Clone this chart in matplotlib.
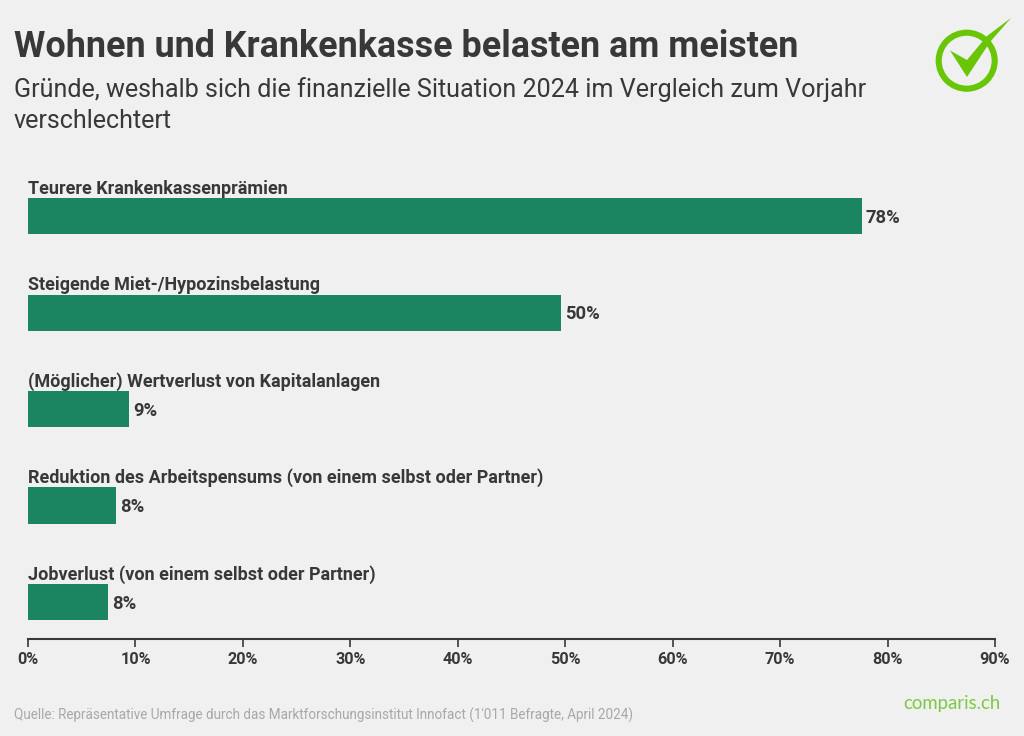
import matplotlib
matplotlib.use('Agg')
import matplotlib.pyplot as plt
from matplotlib.patches import Circle, Polygon

plt.rcParams['font.family'] = ['Roboto', 'DejaVu Sans']

categories = ['Teurere Krankenkassenprämien',
              'Steigende Miet-/Hypozinsbelastung',
              '(Möglicher) Wertverlust von Kapitalanlagen',
              'Reduktion des Arbeitspensums (von einem selbst oder Partner)',
              'Jobverlust (von einem selbst oder Partner)']
values = [77.6, 49.6, 9.4, 8.2, 7.4]
value_labels = ['78%', '50%', '9%', '8%', '8%']
ticks = [0, 10, 20, 30, 40, 50, 60, 70, 80, 90]

W, H = 1024, 736
BG = '#f0f0f0'
DARK = '#383838'
GREEN = '#1a8560'
LOGO = '#68c606'

fig = plt.figure(figsize=(W / 100, H / 100), dpi=100, facecolor=BG)

# achse in pixeln platzieren
ax = fig.add_axes([28 / W, 1 - 639 / H, (995 - 28) / W, (639 - 168) / H])
ax.set_facecolor('none')
pos = list(range(len(values)))
ax.barh(pos, values, height=0.375, color=GREEN)
ax.set_xlim(0, 90)
ax.set_ylim(4.384, -0.5)

for p, c, v, l in zip(pos, categories, values, value_labels):
    ax.text(0, p - 0.287, c, ha='left', va='center', fontsize=12.95,
            fontweight='bold', color=DARK)
    ax.annotate(l, (v, p), xytext=(3.0, -1.2), textcoords='offset points', ha='left',
                va='center', fontsize=13.2, fontweight='bold', color=DARK)

for s in ['top', 'right', 'left']:
    ax.spines[s].set_visible(False)
ax.spines['bottom'].set_color(DARK)
ax.spines['bottom'].set_linewidth(1.5)
ax.set_yticks([])
ax.set_xticks(ticks)
ax.set_xticklabels(['%d%%' % t for t in ticks], fontsize=11.7, fontweight='bold', color=DARK)
ax.tick_params(axis='x', length=6, width=1.2, color=DARK, pad=3, direction='out')

fig.text(14 / W, 1 - 47 / H, 'Wohnen und Krankenkasse belasten am meisten', fontsize=25.83,
         fontweight='bold', color=DARK, ha='left', va='center')
fig.text(14 / W, 1 - 90 / H, 'Gründe, weshalb sich die finanzielle Situation 2024 im Vergleich zum Vorjahr',
         fontsize=18.08, color=DARK, ha='left', va='center')
fig.text(14 / W, 1 - 121 / H, 'verschlechtert', fontsize=18.08, color=DARK, ha='left', va='center')
fig.text(14 / W, 1 - 715 / H, "Quelle: Repräsentative Umfrage durch das Marktforschungsinstitut Innofact (1'011 Befragte, April 2024)",
         fontsize=9.72, color='#a8a8a8', ha='left', va='center')
fig.text(1000 / W, 1 - 703 / H, 'comparis.ch', fontsize=13.45, color='#7cc943',
         ha='right', va='center', family=['Lato', 'DejaVu Sans'])

# logo oben rechts, in pixeln
overlay = fig.add_axes([0, 0, 1, 1], facecolor='none')
overlay.set_xlim(0, W)
overlay.set_ylim(H, 0)
overlay.axis('off')
overlay.add_patch(Circle((966.7, 60.7), 28, fill=False, ec=LOGO, lw=4.4))
overlay.add_patch(Polygon([(950, 50.5), (967, 60), (987, 36), (1011, 18),
                           (990, 42), (967, 77)], closed=True, fc=LOGO, ec='none'))

fig.savefig('out.png', dpi=100, facecolor=BG)
